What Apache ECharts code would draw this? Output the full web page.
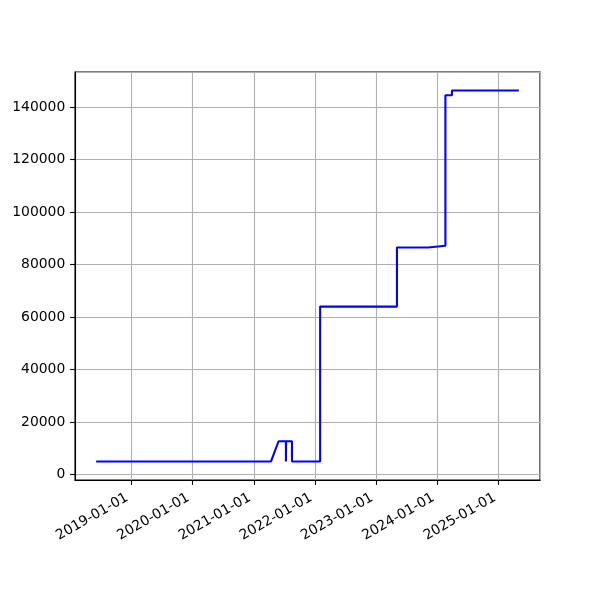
<!DOCTYPE html>
<html>
<head>
<meta charset="utf-8">
<script src="https://cdn.jsdelivr.net/npm/echarts@6/dist/echarts.min.js"></script>
<style>html,body{margin:0;padding:0;background:#fff}#c{width:600px;height:600px}</style>
</head>
<body>
<div id="c"></div>
<script>
const dates = ['2018-06-06','2021-04-14','2021-05-29','2021-07-12','2021-07-12','2021-07-13','2021-08-17','2021-08-17','2022-02-01','2022-02-01','2023-05-05','2023-05-05','2023-11-06','2023-11-06','2024-02-18','2024-02-18','2024-03-28','2024-03-28','2025-05-01'];
const values = [5000,5000,12700,12700,5000,12700,12700,5000,5000,64000,64000,86500,86500,87200,87200,144500,144500,146300,146300];

function t(s){const p=s.split('-').map(Number);return new Date(p[0],p[1]-1,p[2]).getTime();}
const xs = dates.map(t);
const data = xs.map((x,i)=>[x,values[i]]);
const xmin0 = Math.min(...xs), xmax0 = Math.max(...xs);
const xpad = (xmax0-xmin0)*0.05;
const ymin0 = Math.min(...values), ymax0 = Math.max(...values);
const ypad = (ymax0-ymin0)*0.05;

const chart = echarts.init(document.getElementById('c'), null, {renderer:'canvas'});
const font = 'DejaVu Sans';
const fs = 13.9;
chart.setOption({
  animation:false,
  backgroundColor:'#fff',
  grid:{left:75,right:60,top:72,bottom:120,show:true,borderColor:'#000',borderWidth:1.1,containLabel:false},
  xAxis:{
    type:'time',
    min:xmin0-xpad, max:xmax0+xpad,
    minInterval:365*864e5, maxInterval:366*864e5,
    axisLine:{show:true,onZero:false,lineStyle:{color:'#000',width:1.1}},
    axisTick:{show:true,length:4.9,lineStyle:{color:'#000',width:1.1}},
    splitLine:{show:true,lineStyle:{color:'#b0b0b0',width:1.1}},
    axisLabel:{rotate:30,margin:14.3,padding:[0,4.6,0,0],color:'#000',fontFamily:font,fontSize:fs,
      formatter:function(v){return echarts.time.format(v,'{yyyy}-{MM}-{dd}',false);}},
  },
  yAxis:{
    type:'value',
    min:ymin0-ypad, max:ymax0+ypad,
    splitNumber:8,
    axisLine:{show:true,onZero:false,lineStyle:{color:'#000',width:1.1}},
    axisTick:{show:true,length:4.9,lineStyle:{color:'#000',width:1.1}},
    splitLine:{show:true,lineStyle:{color:'#b0b0b0',width:1.1}},
    axisLabel:{margin:9.7,color:'#000',fontFamily:font,fontSize:fs,showMinLabel:false,showMaxLabel:false,
      formatter:function(v){return (v%20000===0)?String(v):'';}}
  },
  series:[{type:'line',data:data,showSymbol:false,lineStyle:{color:'#0000ff',width:2.1},itemStyle:{color:'#0000ff'}}]
});
</script>
</body>
</html>
